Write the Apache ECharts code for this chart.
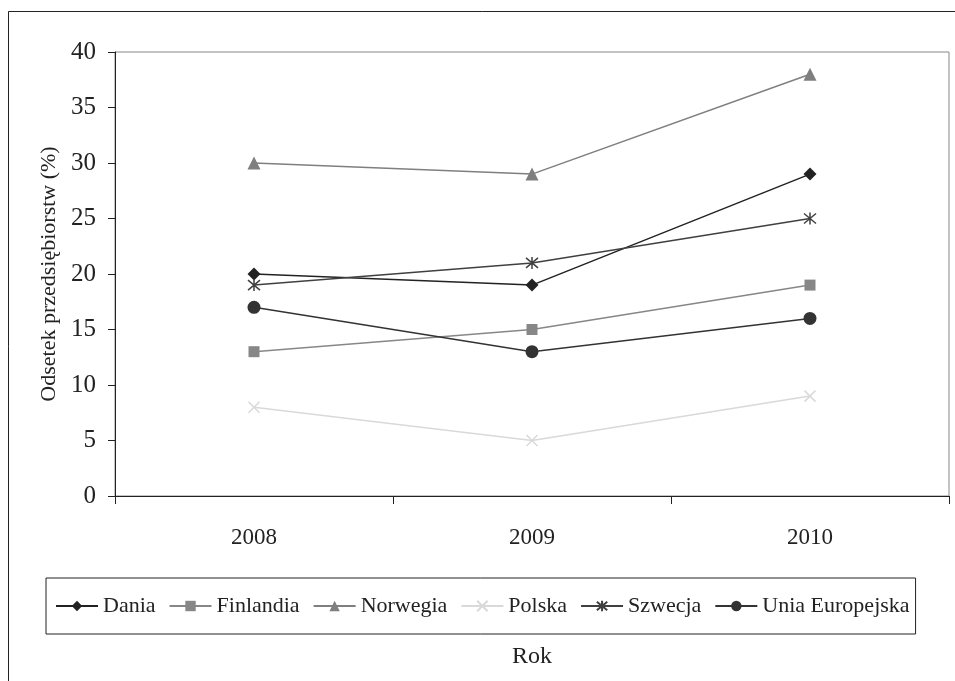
<!DOCTYPE html>
<html>
<head>
<meta charset="utf-8">
<script src="https://cdn.jsdelivr.net/npm/echarts@6/dist/echarts.min.js"></script>
<style>
  html, body { margin: 0; padding: 0; background: #fff; }
  #chart { width: 955px; height: 681px; }
</style>
</head>
<body>
<div id="chart"></div>
<script>
// Share of enterprises (%) by country, 2008–2010
const years = ['2008', '2009', '2010'];
const dania = [20, 19, 29];
const finlandia = [13, 15, 19];
const norwegia = [30, 29, 38];
const polska = [8, 5, 9];
const szwecja = [19, 21, 25];
const uniaEuropejska = [17, 13, 16];

const FONT = '"Liberation Serif", "Times New Roman", serif';
const crossPath = 'path://M0,0L10,10M10,0L0,10';
const starPath = 'path://M0,0L10,10M10,0L0,10M5,-1L5,11';

function lineSeries(name, data, color, symbol, size, stroked) {
  return {
    name: name,
    type: 'line',
    data: data,
    symbol: symbol,
    symbolSize: size,
    showAllSymbol: true,
    lineStyle: { color: color, width: 1.5 },
    itemStyle: stroked
      ? { color: color, borderColor: color, borderWidth: 1.5 }
      : { color: color, borderWidth: 0 },
    emphasis: { disabled: true },
    z: 3
  };
}

const chart = echarts.init(document.getElementById('chart'), null, { renderer: 'canvas' });
chart.setOption({
  animation: false,
  backgroundColor: '#fff',
  textStyle: { fontFamily: FONT },
  graphic: [{
    type: 'rect',
    shape: { x: 8.5, y: 11.5, width: 1000, height: 700 },
    style: { fill: 'none', stroke: '#222', lineWidth: 1 },
    silent: true,
    z: -1
  }],
  grid: {
    left: 115, top: 52, right: 6, bottom: 185,
    show: true, borderColor: '#888', borderWidth: 1, backgroundColor: 'transparent'
  },
  legend: {
    left: 46, top: 578,
    orient: 'horizontal',
    padding: [17, 6, 17, 9],
    itemGap: 13,
    itemWidth: 42,
    itemHeight: 13,
    borderColor: '#222',
    borderWidth: 1,
    textStyle: { fontFamily: FONT, fontSize: 22, color: '#222' },
    data: ['Dania', 'Finlandia', 'Norwegia', 'Polska', 'Szwecja', 'Unia Europejska']
  },
  xAxis: {
    type: 'category',
    data: years,
    boundaryGap: true,
    name: 'Rok',
    nameLocation: 'middle',
    nameGap: 149,
    nameTextStyle: { fontFamily: FONT, fontSize: 24, color: '#222', verticalAlign: 'top' },
    axisLine: { lineStyle: { color: '#222', width: 1 } },
    axisTick: { show: true, interval: 0, length: 8, inside: false, lineStyle: { color: '#222' } },
    axisLabel: { fontFamily: FONT, fontSize: 23, color: '#222', margin: 30 },
    splitLine: { show: false }
  },
  yAxis: {
    type: 'value',
    min: 0, max: 40, interval: 5,
    name: 'Odsetek przedsiębiorstw (%)',
    nameLocation: 'middle',
    nameRotate: 90,
    nameGap: 54,
    nameTextStyle: { fontFamily: FONT, fontSize: 22, color: '#222' },
    axisLine: { show: true, lineStyle: { color: '#222', width: 1 } },
    axisTick: { show: true, length: 7, inside: false, lineStyle: { color: '#222' } },
    axisLabel: { fontFamily: FONT, fontSize: 25, color: '#222', margin: 19 },
    splitLine: { show: false }
  },
  series: [
    lineSeries('Dania', dania, '#222222', 'diamond', 13, false),
    lineSeries('Finlandia', finlandia, '#878787', 'rect', 11, false),
    lineSeries('Norwegia', norwegia, '#7f7f7f', 'triangle', 13, false),
    lineSeries('Polska', polska, '#d9d9d9', crossPath, 11, true),
    lineSeries('Szwecja', szwecja, '#404040', starPath, 12, true),
    lineSeries('Unia Europejska', uniaEuropejska, '#333333', 'circle', 13, false)
  ]
});
</script>
</body>
</html>
